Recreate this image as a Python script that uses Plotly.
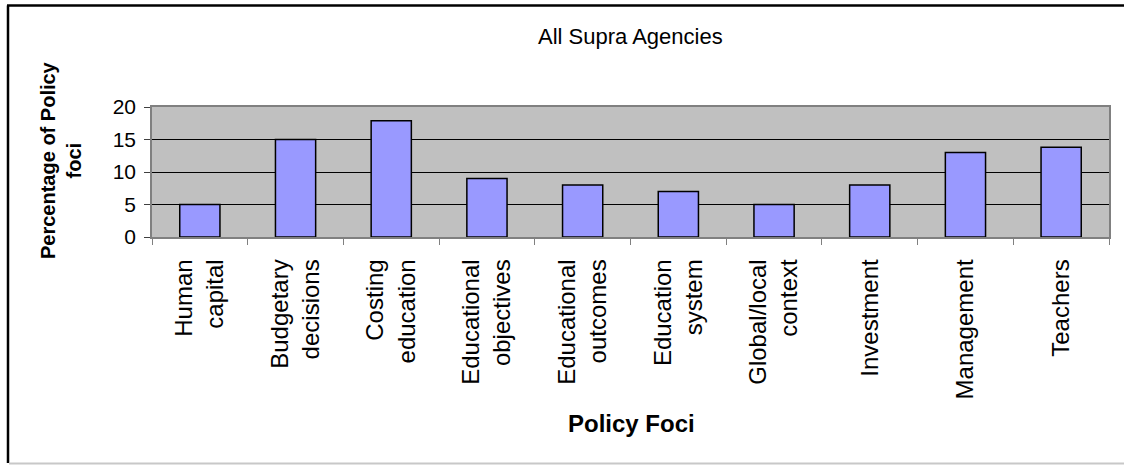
import plotly.graph_objects as go

categories = ["Human<br>capital", "Budgetary<br>decisions", "Costing<br>education",
              "Educational<br>objectives", "Educational<br>outcomes", "Education<br>system",
              "Global/local<br>context", "Investment", "Management", "Teachers"]
values = [5, 15, 17.9, 9, 8, 7, 5, 8, 13, 13.8]
y_ticks = [0, 5, 10, 15, 20]

W, H = 1124, 465
L, R, T, B = 152, 1109, 107, 237
pw, ph = R - L, B - T

def px(x):
    return (x - L) / pw

def py(y):
    return (B - y) / ph

FONT = "Arial, Liberation Sans, sans-serif"

fig = go.Figure(go.Bar(
    x=categories, y=values,
    marker=dict(color="#9999FF", line=dict(color="black", width=1.5)),
))

fig.update_layout(
    width=W, height=H,
    margin=dict(l=L, r=W - R, t=T, b=H - B, pad=0),
    paper_bgcolor="white", plot_bgcolor="#C0C0C0",
    bargap=0.58, showlegend=False,
    font=dict(family=FONT, color="black"),
)
fig.update_xaxes(
    showline=True, linecolor="#808080", linewidth=1.5, mirror=True,
    ticks="outside", ticklen=6, tickcolor="#808080", tickson="boundaries",
    tickangle=-90, tickfont=dict(size=24, family=FONT), showgrid=False,
    ticklabelstandoff=11,
)
fig.update_yaxes(
    range=[0, 20], tickvals=y_ticks, showline=True, linecolor="#808080", linewidth=1.5,
    mirror=True, ticks="outside", ticklen=6, tickcolor="#404040",
    tickfont=dict(size=21, family=FONT), showgrid=True, gridcolor="black", gridwidth=1,
    zeroline=False, ticklabelstandoff=4,
)

fig.add_annotation(text="All Supra Agencies", xref="paper", yref="paper",
                   x=px(630), y=py(37), xanchor="center", yanchor="middle",
                   showarrow=False, font=dict(size=22, family=FONT))
fig.add_annotation(text="<b>Policy Foci</b>", xref="paper", yref="paper",
                   x=px(631), y=py(423), xanchor="center", yanchor="middle",
                   showarrow=False, font=dict(size=24, family=FONT))
fig.add_annotation(text="<b>Percentage of Policy<br>foci</b>", xref="paper", yref="paper",
                   x=px(61), y=py(160), xanchor="center", yanchor="middle",
                   showarrow=False, textangle=-90, font=dict(size=20, family=FONT))

# outer frame
fig.add_shape(type="line", xref="paper", yref="paper", x0=px(8), x1=px(8), y0=py(5.5), y1=py(463),
              line=dict(color="black", width=2.5))
fig.add_shape(type="line", xref="paper", yref="paper", x0=px(7), x1=px(1124), y0=py(5.5), y1=py(5.5),
              line=dict(color="black", width=2.5))
fig.add_shape(type="line", xref="paper", yref="paper", x0=px(9), x1=px(1124), y0=py(463.5), y1=py(463.5),
              line=dict(color="#C8C8C8", width=2))

fig.write_html("out.html", config={"displayModeBar": False},
               post_script="document.body.style.margin='0';document.body.style.overflow='hidden';")
